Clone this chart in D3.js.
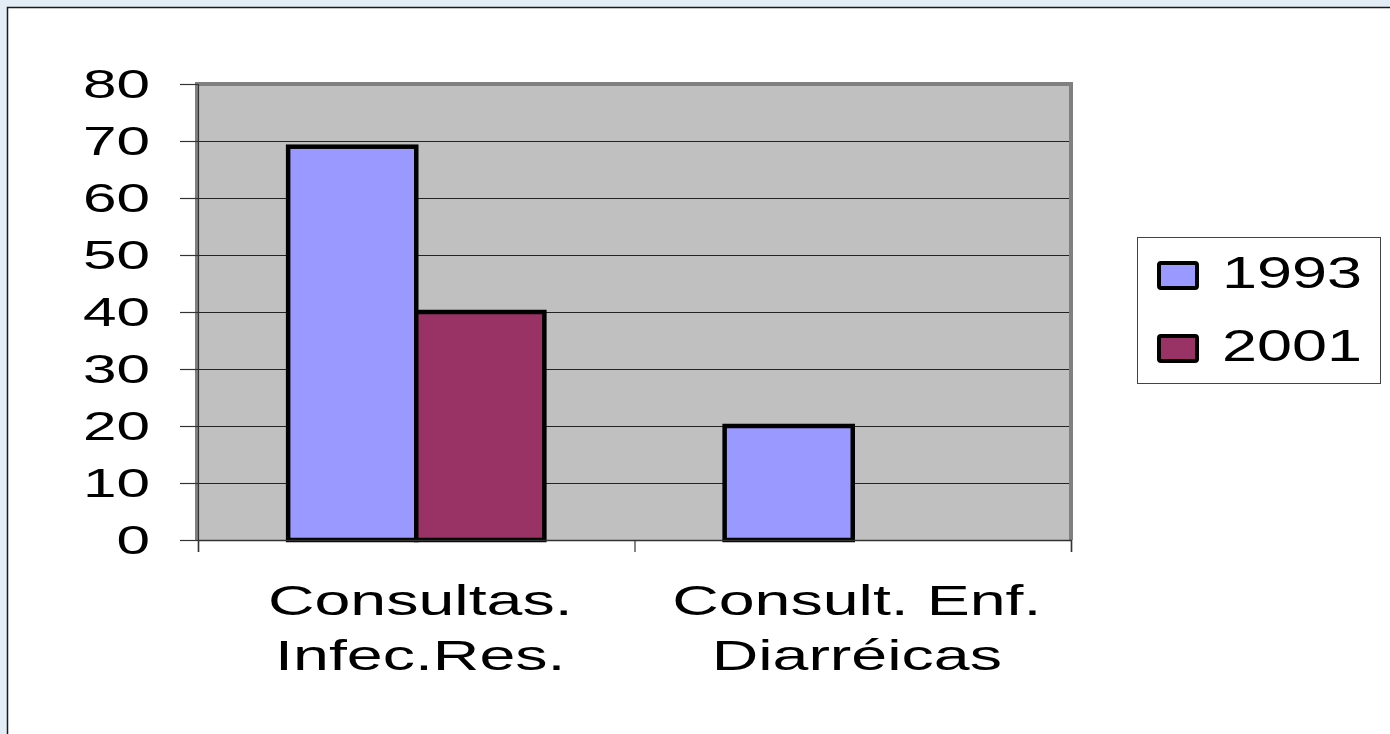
<!DOCTYPE html>
<html>
<head>
<meta charset="utf-8">
<script src="https://cdn.jsdelivr.net/npm/d3@7"></script>
<style>
  html, body { margin: 0; padding: 0; background: #e3edf5; }
  svg { display: block; }
  text { font-family: "Liberation Sans", Arial, sans-serif; fill: #000; }
</style>
</head>
<body>
<svg id="chart" width="1390" height="734"></svg>
<script>
const categories = [["Consultas.", "Infec.Res."], ["Consult. Enf.", "Diarréicas"]];
const seriesNames = ["1993", "2001"];
const values1993 = [69, 20];
const values2001 = [40, 0];
const yTicks = [0, 10, 20, 30, 40, 50, 60, 70, 80];
const colors = ["#9999ff", "#993366"];

(function () {
const series = [values1993, values2001];
const svg = d3.select("#chart");
const stretch = 1.43;

// chart area (white)
svg.append("rect").attr("x", 8).attr("y", 8).attr("width", 1400).attr("height", 740)
  .attr("fill", "#ffffff");
svg.append("path").attr("d", "M7.5,740 V7.5 H1400").attr("fill", "none")
  .attr("stroke", "#1a1a1a").attr("stroke-width", 1.5);

const pL = 198, pR = 1071, pT = 84, pB = 540;
const y = d3.scaleLinear().domain([0, 80]).range([pB, pT]);
const x0 = d3.scaleBand().domain(d3.range(categories.length)).range([pL, pR]);
const groupFrac = 0.587;
const x1 = d3.scaleBand().domain(d3.range(seriesNames.length))
  .range([x0.bandwidth() * (1 - groupFrac) / 2, x0.bandwidth() * (1 + groupFrac) / 2]);

// plot background
svg.append("rect").attr("x", pL).attr("y", pT).attr("width", pR - pL).attr("height", pB - pT)
  .attr("fill", "#c0c0c0");

// gridlines
svg.append("g").selectAll("line").data(yTicks.filter(d => d > 0)).join("line")
  .attr("x1", pL).attr("x2", pR)
  .attr("y1", d => Math.round(y(d)) + 0.5).attr("y2", d => Math.round(y(d)) + 0.5)
  .attr("stroke", "#222").attr("stroke-width", 1);

// plot border
svg.append("path")
  .attr("d", `M${pL - 1},${pB} V${pT} H${pR} V${pB}`)
  .attr("fill", "none").attr("stroke", "#808080").attr("stroke-width", 4);

// bars
const g = svg.append("g");
categories.forEach((c, ci) => {
  series.forEach((vals, si) => {
    const v = vals[ci];
    if (v <= 0) return;
    g.append("rect")
      .attr("x", x0(ci) + x1(si))
      .attr("y", y(v))
      .attr("width", x1.bandwidth())
      .attr("height", y(0) - y(v))
      .attr("fill", colors[si])
      .attr("stroke", "#000").attr("stroke-width", 4.5);
  });
});

// y axis
const yAxis = svg.append("g").attr("transform", `translate(${pL},0)`)
  .call(d3.axisLeft(y).tickValues(yTicks).tickSize(18).tickPadding(0).tickFormat(d3.format("d")));
yAxis.select(".domain").attr("stroke", "#333").attr("stroke-width", 1.2);
yAxis.selectAll(".tick line").attr("stroke", "#333").attr("stroke-width", 1.2);
yAxis.selectAll(".tick text")
  .attr("x", null)
  .attr("transform", `translate(-48,0) scale(1.47,1)`)
  .attr("dy", "0.33em")
  .style("font-size", "41px").style("font-family", "'Liberation Sans', Arial, sans-serif")
  .attr("fill", "#000");

// x axis
const xAxisScale = d3.scaleLinear().domain([0, categories.length]).range([pL, pR]);
const xAxis = svg.append("g").attr("transform", `translate(0,${pB})`)
  .call(d3.axisBottom(xAxisScale).tickValues(d3.range(categories.length + 1)).tickSize(12).tickFormat(""));
xAxis.select(".domain").attr("stroke", "#333").attr("stroke-width", 1.5);
xAxis.selectAll(".tick line").attr("stroke", "#333").attr("stroke-width", 1.2);

// category labels
categories.forEach((lines, ci) => {
  const cx = x0(ci) + x0.bandwidth() / 2 + 4;
  lines.forEach((ln, li) => {
    svg.append("text")
      .attr("transform", `translate(${cx},${615 + li * 55}) scale(1.5,1)`)
      .attr("text-anchor", "middle")
      .style("font-size", "43px")
      .text(ln);
  });
});

// legend
const lg = svg.append("g");
lg.append("rect").attr("x", 1137.5).attr("y", 237.5).attr("width", 243).attr("height", 146)
  .attr("fill", "#fff").attr("stroke", "#444").attr("stroke-width", 1);
seriesNames.forEach((s, i) => {
  const yy = 263 + i * 73;
  lg.append("rect").attr("x", 1159).attr("y", yy).attr("width", 38).attr("height", 25)
    .attr("rx", 2).attr("fill", colors[i]).attr("stroke", "#000").attr("stroke-width", 4);
  lg.append("text")
    .attr("transform", `translate(1222,${yy + 25}) scale(${stretch},1)`)
    .style("font-size", "44px")
    .text(s);
});
})();
</script>
</body>
</html>
